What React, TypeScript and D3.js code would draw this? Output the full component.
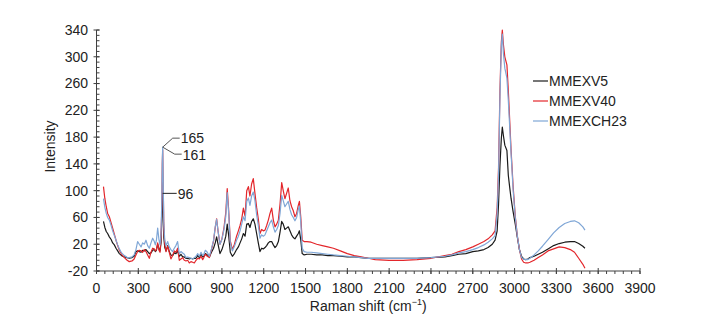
import React from "react";
import * as d3 from "d3";

// Raman shift grid (cm-1)
const shift: number[] = [
  50, 60, 70, 80, 92, 105, 116, 128, 140, 152, 164, 180, 200, 220, 235, 255, 270, 283, 295, 307,
  320, 331, 343, 355, 367, 379, 391, 403, 415, 422, 430, 439, 448, 456, 463, 468, 472, 475, 478, 483, 490,
  499, 511, 522, 534, 546, 558, 570, 582, 594, 606, 618, 630, 642, 654, 666, 678, 690, 702, 714, 726,
  738, 750, 762, 770, 781, 795,
  810, 825, 840, 852, 862, 872, 886, 900, 915, 928, 938, 948, 960, 975, 990,
  1005, 1018, 1030, 1042, 1054, 1066, 1078, 1090, 1101, 1113, 1125, 1137, 1149, 1161, 1173, 1185, 1197,
  1209, 1221, 1233, 1245, 1257, 1269, 1281, 1293, 1305, 1317, 1329, 1340, 1352, 1364, 1376, 1388, 1400,
  1412, 1424, 1436, 1448, 1456, 1466, 1476, 1490,
  1510, 1540, 1580, 1620, 1660, 1700, 1750, 1800, 1850, 1900, 1950, 2000, 2100, 2200, 2300, 2400, 2500,
  2550, 2600, 2650, 2700, 2740, 2780, 2810, 2840,
  2860, 2875, 2885, 2895, 2905, 2912, 2920, 2930, 2945, 2955, 2965, 2975, 2990, 3005, 3020, 3035, 3050,
  3065, 3080, 3095,
  3110, 3140, 3170, 3200, 3240, 3280, 3320, 3360, 3400, 3430, 3460, 3490, 3505,
];

const mmexv5: number[] = [
  54, 45, 39, 36, 31, 27, 22, 19, 14, 10, 6, 3, 1, 0, -1, 0, 2, 9, 10, 9,
  8, 11, 10, 12, 9, 6, 7, 11, 12, 9, 11, 20, 13, 10, 22, 50, 85, 96, 75, 30, 15,
  10, 18, 9, 4, 3, 7, 6, 10, 2, 5, 1, 1, -1, -1, -2, -1, -2, -1, -1, 3,
  0, 5, 1, 2, 6, 4,
  1, 8, 14, 22, 31, 20, 6, 12, 22, 32, 50, 34, 8, 2, 6,
  12, 16, 22, 28, 36, 32, 50, 51, 45, 54, 58, 50, 36, 22, 9, 14, 13,
  15, 18, 22, 24, 24, 19, 15, 18, 24, 38, 54, 50, 42, 44, 46, 40, 34,
  30, 28, 32, 36, 40, 26, 6, 4,
  5, 5, 4, 4, 3, 3, 2, 1, 1, 0, -1, -1, -1, -1, -1, 0, 1,
  3, 5, 6, 9, 10, 12, 15, 20,
  26, 40, 80, 138, 178, 195, 182, 168, 160, 123, 105, 88, 68, 50, 30, 12, 2,
  -2, -3, -2,
  0, 2, 5, 8, 13, 18, 21, 23, 24, 24, 21, 17, 14,
];

const mmexv40: number[] = [
  106, 88, 76, 66, 61, 52, 44, 35, 26, 18, 11, 5, 0, -4, -6, -5, -2, 4, 9, 11,
  10, 8, 12, 9, 4, -1, 8, 14, 13, 10, 12, 22, 11, 8, 30, 70, 140, 161, 120, 45, 20,
  9, 17, 8, -2, 3, 10, 8, 14, -4, -2, 0, -4, -5, -4, -8, -6, -7, -8, -4, -1,
  -2, 2, -3, 0, 5, 2,
  0, 12, 25, 45, 58, 40, 20, 28, 45, 68, 103, 72, 25, 12, 20,
  32, 40, 48, 58, 74, 62, 100, 106, 92, 110, 118, 96, 75, 58, 36, 42, 40,
  41, 48, 56, 66, 74, 56, 46, 50, 56, 80, 112, 100, 88, 96, 104, 85, 76,
  70, 61, 66, 78, 84, 60, 26, 24,
  24, 23, 20, 18, 16, 14, 10, 6, 3, 1, -1, -3, -4, -4, -3, -1, 3,
  5, 9, 12, 16, 20, 24, 28, 34,
  40, 75, 135, 250, 322, 340, 318, 300, 288, 250, 205, 160, 105, 62, 32, 12, -2,
  -7, -8, -8,
  -7, -4, 0, 4, 10, 13, 16, 15, 12, 8, -1, -10, -16,
];

const mmexch23: number[] = [
  88, 75, 66, 60, 56, 48, 40, 33, 26, 19, 13, 7, 3, 0, 0, 1, 4, 12, 24, 20,
  16, 22, 20, 26, 18, 14, 22, 29, 24, 19, 26, 44, 27, 19, 35, 80, 145, 165, 125, 50, 26,
  18, 24, 16, 12, 9, 14, 18, 24, 6, 9, 7, 5, 0, 1, 0, -1, -2, 0, 2, 6,
  2, 8, 3, 5, 11, 8,
  2, 13, 26, 46, 57, 40, 20, 27, 42, 62, 97, 68, 22, 10, 17,
  26, 32, 40, 50, 61, 55, 84, 89, 78, 92, 98, 85, 64, 48, 29, 34, 32,
  34, 40, 46, 52, 56, 46, 38, 42, 48, 66, 93, 85, 76, 80, 84, 72, 64,
  60, 55, 60, 72, 77, 52, 14, 9,
  8, 8, 7, 6, 5, 4, 3, 2, 1, 0, -1, -1, -1, -1, -1, 0, 2,
  4, 7, 9, 12, 15, 19, 23, 28,
  33, 66, 125, 240, 316, 334, 305, 283, 268, 235, 195, 155, 100, 60, 32, 12, 0,
  -2, -3, -3,
  -1, 4, 10, 17, 27, 37, 45, 51, 54, 55, 52, 46, 41,
];

const seriesNames = ["MMEXV5", "MMEXV40", "MMEXCH23"];
const seriesColors = ["#1a1a1a", "#e3262b", "#7fa6d6"];
const seriesData = [mmexv5, mmexv40, mmexch23];

const xTicks = d3.range(0, 3901, 300);
const xMinor = d3.range(0, 3901, 60);
const yTicks = d3.range(-20, 341, 40);
const yMinor = d3.range(-20, 341, 8);

// peak annotations
const peakShift = 475;
const peakLabels = ["165", "161", "96"];
const peakValues = [165, 161, 96];

const W = 709;
const H = 334;
const FONT = "'Liberation Sans', Arial, sans-serif";

export default function App() {
  const x = d3.scaleLinear().domain([0, 3900]).range([96.5, 640]);
  const y = d3.scaleLinear().domain([-20, 340]).range([271, 30]);
  const line = d3
    .line<number>()
    .x((_, i) => x(shift[i]))
    .y((d) => y(d));

  const px = x(peakShift);
  const pyTop = y(peakValues[0]);
  const pyLow = y(peakValues[2]);
  const axisColor = "#404040";
  const textColor = "#222";

  return (
    <svg
      width={W}
      height={H}
      style={{ position: "absolute", left: 0, top: 0, background: "#fff" }}
      fontFamily={FONT}
    >
      <rect width={W} height={H} fill="#fff" />
      {/* series */}
      {seriesData.map((s, i) => (
        <path key={i} d={line(s) || ""} fill="none" stroke={seriesColors[i]} strokeWidth={1.2} strokeLinejoin="round" />
      ))}

      {/* y axis */}
      <line x1={x(0)} x2={x(0)} y1={y(-20)} y2={y(340)} stroke={axisColor} strokeWidth={1} />
      {yMinor.map((v) => (
        <line key={"ym" + v} x1={x(0)} x2={x(0) + 3} y1={y(v)} y2={y(v)} stroke={axisColor} strokeWidth={1} />
      ))}
      {yTicks.map((v) => (
        <g key={"yt" + v}>
          <line x1={x(0) - 3} x2={x(0) + 3} y1={y(v)} y2={y(v)} stroke={axisColor} strokeWidth={1} />
          <text x={88} y={y(v)} dy="0.35em" textAnchor="end" fontSize={14} fill={textColor}>
            {v}
          </text>
        </g>
      ))}

      {/* x axis */}
      <line x1={x(0)} x2={x(3900)} y1={y(-20)} y2={y(-20)} stroke={axisColor} strokeWidth={1} />
      {xMinor.map((v) => (
        <line key={"xm" + v} x1={x(v)} x2={x(v)} y1={y(-20)} y2={y(-20) + 3} stroke={axisColor} strokeWidth={1} />
      ))}
      {xTicks.map((v) => (
        <g key={"xt" + v}>
          <line x1={x(v)} x2={x(v)} y1={y(-20) - 3} y2={y(-20) + 3} stroke={axisColor} strokeWidth={1} />
          <text x={x(v)} y={293} textAnchor="middle" fontSize={14} fill={textColor}>
            {v}
          </text>
        </g>
      ))}

      {/* axis titles */}
      <text x={(x(0) + x(3900)) / 2} y={311} textAnchor="middle" fontSize={14} fill={textColor}>
        Raman shift (cm
        <tspan fontSize={9} dy={-6}>−1</tspan>
        <tspan dy={6}>)</tspan>
      </text>
      <text
        transform={`translate(55, ${(y(-20) + y(340)) / 2 - 4}) rotate(-90)`}
        textAnchor="middle"
        fontSize={14}
        fill={textColor}
      >
        Intensity
      </text>

      {/* annotations */}
      <polyline points={`${px},${pyTop} ${px + 10},${pyTop - 9} ${px + 17},${pyTop - 9}`} fill="none" stroke="#555" strokeWidth={1} />
      <polyline points={`${px},${pyTop} ${px + 12},${pyTop + 7} ${px + 19},${pyTop + 7}`} fill="none" stroke="#555" strokeWidth={1} />
      <line x1={px} x2={px + 14} y1={pyLow} y2={pyLow} stroke="#222" strokeWidth={1} />
      <text x={px + 18} y={pyTop - 9} dy="0.35em" fontSize={14} fill={textColor}>{peakLabels[0]}</text>
      <text x={px + 20} y={pyTop + 8} dy="0.35em" fontSize={14} fill={textColor}>{peakLabels[1]}</text>
      <text x={px + 15} y={pyLow + 1} dy="0.35em" fontSize={14} fill={textColor}>{peakLabels[2]}</text>

      {/* legend */}
      {seriesNames.map((n, i) => (
        <g key={n} transform={`translate(533, ${81 + i * 20})`}>
          <line x1={0} x2={15} y1={0} y2={0} stroke={seriesColors[i]} strokeWidth={1.2} />
          <text x={16} y={0} dy="0.35em" fontSize={14} fill={textColor}>
            {n}
          </text>
        </g>
      ))}
    </svg>
  );
}
